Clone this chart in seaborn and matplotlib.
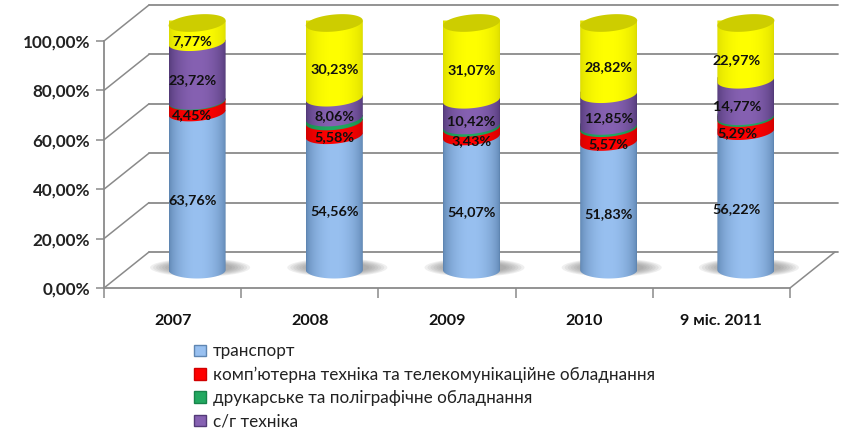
import numpy as np
import matplotlib
matplotlib.use("Agg")
import matplotlib.pyplot as plt
import seaborn as sns
from matplotlib.patches import Ellipse, Patch, Polygon
from matplotlib.transforms import Affine2D

years = ["2007", "2008", "2009", "2010", "9 міс. 2011"]
transport = [63.76, 54.56, 54.07, 51.83, 56.22]
computers = [4.45, 5.58, 3.43, 5.57, 5.29]
printing = [0.30, 1.57, 1.01, 0.93, 0.75]
agro = [23.72, 8.06, 10.42, 12.85, 14.77]
other = [7.77, 30.23, 31.07, 28.82, 22.97]
y_ticks = [0, 20, 40, 60, 80, 100]
y_labels = ["0,00%", "20,00%", "40,00%", "60,00%", "80,00%", "100,00%"]
legend_names = ["транспорт", "комп’ютерна техніка та телекомунікаційне обладнання",
                "друкарське та поліграфічне обладнання", "с/г техніка"]

# values, edge colour, centre colour, show label
series = [
    (transport, "#5F86B2", "#98C0F0", True),
    (computers, "#D00000", "#FF0000", True),
    (printing, "#17834A", "#22A860", False),
    (agro, "#533A78", "#8661B2", True),
    (other, "#DCDC00", "#FFFF00", True),
]

sns.set_theme(style="white")
plt.rcParams["font.family"] = ["Lato", "DejaVu Sans"]

W, H = 843, 434
fig = plt.figure(figsize=(W / 100, H / 100), dpi=100)
ax = fig.add_axes([104 / W, 1 - 288 / H, 686 / W, 247 / H])
ax.set_xlim(-0.5, 4.5)
ax.set_ylim(0, 100)

px_x = 686 / 5
px_y = 2.47
grid_col = "#8A8A8A"
back_x = 45 / px_x
back_y = 36 / px_y

# back wall and floor
for v in y_ticks:
    ax.plot([-0.5 + back_x, 4.5 + back_x + 3 / px_x], [v + back_y] * 2, color=grid_col, lw=1.3,
            clip_on=False, zorder=1)
    ax.plot([-0.5, -0.5 + back_x], [v, v + back_y], color=grid_col, lw=1.1, clip_on=False, zorder=1)
ax.plot([4.5, 4.5 + back_x], [0, back_y], color=grid_col, lw=1.1, clip_on=False, zorder=1)

# cylinders sit half way into the depth of the chart
bar_shift = Affine2D().translate(24.5, 18)
bar_tr = ax.transData + bar_shift
bar_w = 57 / px_x
rx = bar_w / 2
ry = 8.5 / px_y
tilt = 2.5 / px_y
t = np.linspace(np.pi, 2 * np.pi, 40)

for i in range(len(years)):
    for k in range(7, 0, -1):
        ax.add_patch(Ellipse((i + 3 / px_x, 1), (58 + k * 6) / px_x, (9 + k * 1.3) / px_y,
                             color="#707070", alpha=0.11, lw=0, transform=bar_tr,
                             clip_on=False, zorder=2))

bottom = np.zeros(len(years))
for s, (vals, edge, centre, show) in enumerate(series):
    sns.barplot(x=years, y=vals, bottom=bottom, color=centre, saturation=1, width=bar_w,
                errorbar=None, ax=ax, zorder=3)
    grad = np.linspace(0, 1, 60)
    shade = np.sin(grad * np.pi) ** 0.6
    c0 = np.array(matplotlib.colors.to_rgb(edge))
    c1 = np.array(matplotlib.colors.to_rgb(centre))
    img = (c0[None, :] + (c1 - c0)[None, :] * shade[:, None])[None, :, :]
    for i, rect in enumerate(ax.containers[s]):
        rect.set_visible(False)
        y0 = bottom[i]
        y1 = y0 + vals[i]
        # front face: curved lower rim, upper rim is covered by the next series
        lean = tilt if s > 0 else 0
        xs = i + rx * np.cos(t)
        ys = y0 + ry * np.sin(t) + lean * np.cos(t)
        top = y1 + tilt
        outline = np.column_stack([np.r_[xs, i + rx, i - rx], np.r_[ys, top, top]])
        clip = Polygon(outline, transform=bar_tr, fc="none", ec="none", zorder=3 + s, clip_on=False)
        ax.add_patch(clip)
        im = ax.imshow(img, extent=(i - rx, i + rx, y0 - 2 * ry, top), aspect="auto",
                       transform=bar_tr, zorder=3 + s, interpolation="bilinear")
        im.set_clip_box(fig.bbox)
        im.set_clip_path(clip)
        if show:
            dx = {0: -5, 4: -9}.get(i, 0)
            ax.text(i, (y0 + y1) / 2, f"{vals[i]:.2f}%".replace(".", ","), ha="center", va="center",
                    fontsize=10.4, fontweight="bold", color="#101010", zorder=20,
                    transform=bar_tr + Affine2D().translate(dx, -8.5), clip_on=False)
    bottom = bottom + np.array(vals)

# yellow top cap
t2 = np.linspace(0, 2 * np.pi, 80)
for i, total in enumerate(bottom):
    cap = Polygon(np.column_stack([i + rx * np.cos(t2), total + ry * np.sin(t2) + tilt * np.cos(t2)]),
                  fc="#CDCD00", ec="none", transform=bar_tr, zorder=12, clip_on=False)
    ax.add_patch(cap)

ax.set_xlim(-0.5, 4.5)
ax.set_ylim(0, 100)
ax.set_xlabel("")
ax.set_ylabel("")
sns.despine(ax=ax)
for side in ["left", "bottom"]:
    ax.spines[side].set_color(grid_col)
    ax.spines[side].set_linewidth(1.3)
ax.set_yticks(y_ticks, y_labels, fontsize=12.3, fontweight="bold", color="#222222")
ax.set_xticks(range(5), years, fontsize=11.6, fontweight="bold", color="#111111")
ax.set_xticks(np.arange(-0.5, 5, 1), minor=True)
ax.tick_params(axis="x", which="major", length=0, pad=19)
ax.tick_params(axis="x", which="minor", length=7, width=1.1, color=grid_col, bottom=True)
ax.tick_params(axis="y", length=6, width=1.1, color=grid_col, pad=4, left=True)
ax.patch.set_alpha(0)

handles = [Patch(fc=series[j][2], ec=series[j][1], lw=1) for j in range(4)]
fig.legend(handles, legend_names, loc="upper left", bbox_to_anchor=(191 / W, 1 - 340 / H),
           frameon=False, fontsize=12.3, labelcolor="#222222", handlelength=0.65, handleheight=0.65,
           handletextpad=0.45, labelspacing=0.42, borderpad=0.2, borderaxespad=0)

fig.savefig("out.png", dpi=100)
